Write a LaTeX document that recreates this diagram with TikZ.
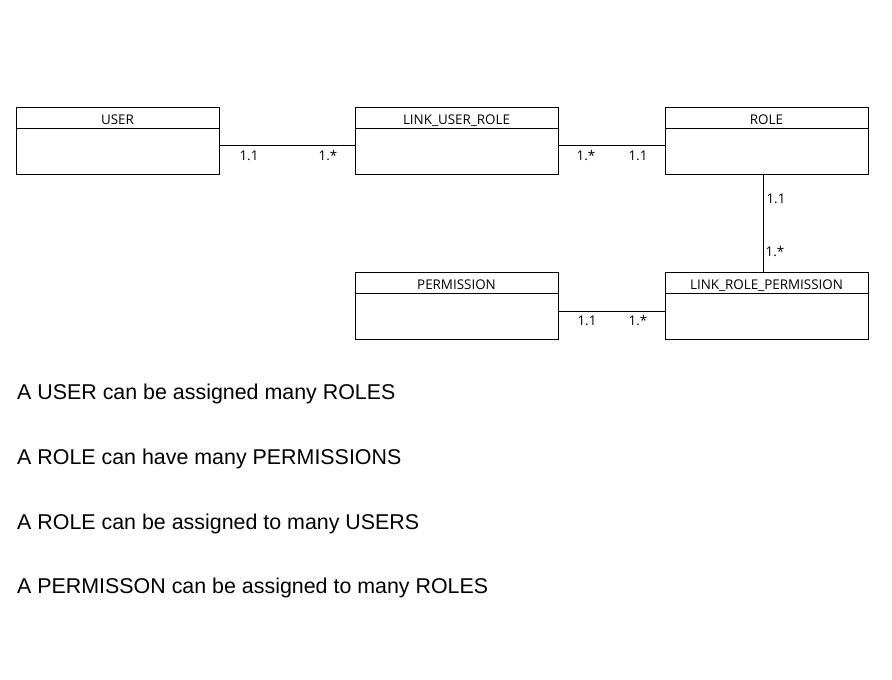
\documentclass[tikz,border=0pt]{standalone}
\usepackage{fontspec}
\setmainfont{Liberation Sans}
\newfontfamily\boxfont{Open Sans}
\begin{document}
\begin{tikzpicture}[x=1pt,y=-1pt,
  entity/.style={draw=black,line width=1pt,rectangle,minimum width=203pt,minimum height=67pt,inner sep=0pt},
  etitle/.style={font=\boxfont\fontsize{13.4}{15}\selectfont,anchor=base,inner sep=0pt},
  mult/.style={font=\boxfont\fontsize{13.4}{15}\selectfont,anchor=base,inner sep=0pt},
  conn/.style={draw=black,line width=1pt},
  stmt/.style={font=\fontsize{21.4}{25}\selectfont,anchor=base west,inner sep=0pt}]
\useasboundingbox (0,0) rectangle (892,680);
\fill[white] (0,0) rectangle (892,680);
% entities
\node[entity] (user) at (117.5,140.5) {};
\node[entity] (lur) at (456.5,140.5) {};
\node[entity] (role) at (766.5,140.5) {};
\node[entity] (perm) at (456.5,305.5) {};
\node[entity] (lrp) at (766.5,305.5) {};
\foreach \n in {user,lur,role,perm,lrp}{
  \draw[line width=1pt] ([yshift=-22pt]\n.north west) -- ([yshift=-22pt]\n.north east);
}
\node[etitle] (usert) at (117.5,124) {USER};
\node[etitle] (lurt) at (456.5,124) {LINK\_USER\_ROLE};
\node[etitle] (rolet) at (766.5,124) {ROLE};
\node[etitle] (permt) at (456.5,289) {PERMISSION};
\node[etitle] (lrpt) at (766.5,289) {LINK\_ROLE\_PERMISSION};
% connectors
\draw[conn] ([yshift=-4.5pt]user.east) -- ([yshift=-4.5pt]lur.west);
\draw[conn] ([yshift=-4.5pt]lur.east) -- ([yshift=-4.5pt]role.west);
\draw[conn] ([xshift=-3.5pt]role.south) -- ([xshift=-3.5pt]lrp.north);
\draw[conn] ([yshift=-5.5pt]perm.east) -- ([yshift=-5.5pt]lrp.west);
% multiplicities
\node[mult] (m1) at (249,160) {1.1};
\node[mult] (m2) at (328,160) {1.*};
\node[mult] (m3) at (586,160) {1.*};
\node[mult] (m4) at (638,160) {1.1};
\node[mult] (m5) at (776,203) {1.1};
\node[mult] (m6) at (775,256) {1.*};
\node[mult] (m7) at (587,325) {1.1};
\node[mult] (m8) at (638,325) {1.*};
% statements
\node[stmt] (s1) at (17,399) {A USER can be assigned many ROLES};
\node[stmt] (s2) at (17,464) {A ROLE can have many PERMISSIONS};
\node[stmt] (s3) at (17,529) {A ROLE can be assigned to many USERS};
\node[stmt] (s4) at (17,593) {A PERMISSON can be assigned to many ROLES};
\end{tikzpicture}
\end{document}
